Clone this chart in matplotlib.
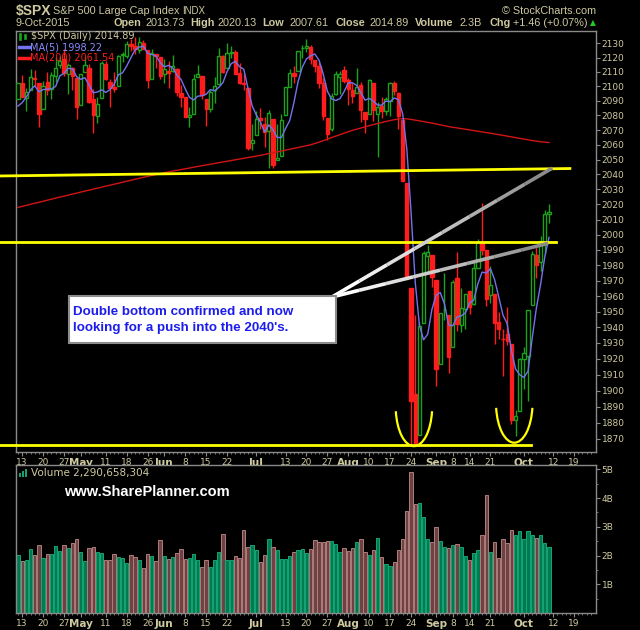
#libraries used
import numpy as np
import pandas as pd
import matplotlib
matplotlib.use('Agg')
import matplotlib.pyplot as plt
from matplotlib.patches import Arc, Rectangle
from matplotlib.collections import LineCollection
from matplotlib.ticker import FixedLocator, NullLocator, NullFormatter

# ---- data : S&P 500 daily bars, 10-Apr-2015 .. 9-Oct-2015 ----
opens = [2091.51, 2102.03, 2092.28, 2097.82, 2105.96, 2102.58, 2084.11, 2102.82, 2098.27, 2107.21,
         2114.76, 2119.29, 2108.35, 2112.49, 2105.52, 2087.38, 2110.23, 2112.63, 2091.26, 2079.96,
         2092.13, 2115.56, 2102.87, 2099.62, 2100.43, 2122.07, 2121.30, 2129.45, 2127.79, 2125.55,
         2130.36, 2125.34, 2105.13, 2122.27, 2120.66, 2108.64, 2110.41, 2110.64, 2112.35, 2095.09,
         2092.34, 2079.07, 2081.12, 2106.24, 2107.43, 2091.34, 2084.26, 2097.40, 2101.58, 2121.06,
         2112.50, 2123.16, 2123.65, 2109.10, 2102.62, 2098.63, 2061.19, 2067.00, 2078.03, 2073.95,
         2069.52, 2077.66, 2049.73, 2052.74, 2080.03, 2099.72, 2109.01, 2110.55, 2126.80, 2126.85,
         2127.55, 2118.21, 2114.16, 2102.24, 2078.19, 2070.75, 2094.70, 2106.78, 2111.60, 2104.49,
         2097.68, 2095.27, 2100.75, 2082.61, 2080.98, 2102.66, 2081.10, 2086.19, 2083.15, 2089.70,
         2101.99, 2095.69, 2076.61, 2034.08, 1965.15, 1898.08, 1872.75, 1942.77, 1986.06, 1986.73,
         1970.09, 1916.52, 1950.79, 1947.76, 1927.30, 1971.45, 1941.59, 1951.45, 1963.06, 1955.10,
         1978.02, 1995.33, 1989.66, 1960.84, 1961.39, 1943.24, 1932.24, 1935.93, 1929.18, 1881.90,
         1887.14, 1919.65, 1921.77, 1954.33, 1986.63, 1982.34, 1994.01, 2013.73]
highs = [2102.61, 2107.65, 2098.62, 2111.91, 2111.30, 2102.58, 2103.94, 2109.64, 2109.98, 2120.49,
         2120.92, 2125.92, 2116.04, 2113.65, 2105.52, 2108.41, 2120.95, 2115.24, 2098.42, 2092.90,
         2117.66, 2117.69, 2105.06, 2110.19, 2121.45, 2123.89, 2131.78, 2133.02, 2134.72, 2134.28,
         2132.15, 2125.34, 2126.22, 2122.27, 2120.66, 2119.15, 2117.59, 2121.92, 2112.89, 2100.99,
         2093.01, 2085.62, 2108.50, 2115.02, 2107.43, 2091.34, 2097.40, 2106.79, 2126.65, 2121.64,
         2129.87, 2128.03, 2125.10, 2116.04, 2108.92, 2098.63, 2074.28, 2082.78, 2085.06, 2078.61,
         2083.74, 2077.66, 2074.28, 2081.31, 2099.88, 2111.98, 2114.14, 2124.42, 2128.91, 2132.82,
         2128.49, 2118.51, 2116.87, 2106.01, 2078.19, 2095.60, 2110.60, 2110.48, 2114.24, 2105.70,
         2102.51, 2112.66, 2103.32, 2082.61, 2105.35, 2102.66, 2089.06, 2092.93, 2092.45, 2102.87,
         2103.47, 2096.17, 2076.61, 2034.08, 1965.15, 1948.04, 1943.09, 1989.60, 1993.48, 1986.73,
         1970.09, 1948.91, 1975.01, 1947.76, 1970.42, 1988.63, 1965.29, 1961.05, 1963.06, 1983.19,
         1997.26, 2020.86, 1989.66, 1979.64, 1961.39, 1949.52, 1939.08, 1952.89, 1929.18, 1887.64,
         1920.53, 1927.21, 1951.36, 1989.17, 1991.62, 1999.31, 2016.50, 2020.13]
lows = [2091.51, 2092.33, 2083.24, 2097.82, 2100.02, 2072.37, 2084.11, 2094.38, 2091.05, 2103.19,
        2112.76, 2107.04, 2094.89, 2097.41, 2077.59, 2087.38, 2110.23, 2088.46, 2067.93, 2074.99,
        2092.13, 2104.58, 2085.57, 2096.04, 2100.43, 2116.81, 2120.01, 2124.50, 2122.59, 2122.95,
        2126.06, 2099.18, 2105.13, 2112.86, 2104.89, 2102.54, 2099.14, 2109.61, 2093.23, 2085.67,
        2079.11, 2072.14, 2081.12, 2106.24, 2091.33, 2072.49, 2082.10, 2088.86, 2101.58, 2109.45,
        2112.50, 2119.89, 2108.58, 2101.78, 2097.51, 2056.64, 2056.32, 2067.00, 2071.02, 2058.40,
        2044.02, 2044.66, 2049.73, 2052.74, 2080.03, 2099.72, 2102.49, 2110.55, 2119.88, 2123.66,
        2115.40, 2110.00, 2098.63, 2077.09, 2063.52, 2069.09, 2094.08, 2094.97, 2102.07, 2087.31,
        2088.60, 2095.27, 2075.53, 2067.91, 2080.98, 2076.49, 2052.09, 2078.26, 2080.61, 2079.30,
        2094.14, 2070.53, 2035.73, 1970.89, 1867.01, 1867.08, 1872.75, 1942.77, 1975.19, 1965.98,
        1903.07, 1916.52, 1944.72, 1911.21, 1927.30, 1937.88, 1937.19, 1939.19, 1948.27, 1954.30,
        1977.93, 1986.73, 1953.45, 1955.80, 1929.22, 1932.57, 1908.85, 1928.44, 1879.21, 1871.91,
        1887.14, 1900.70, 1893.70, 1954.33, 1971.99, 1976.44, 1987.53, 2007.61]
closes = [2102.06, 2092.43, 2095.84, 2106.63, 2104.99, 2081.18, 2100.40, 2097.29, 2107.96, 2112.93,
          2117.69, 2108.92, 2114.76, 2106.85, 2085.51, 2108.29, 2114.49, 2089.46, 2080.15, 2088.00,
          2116.10, 2105.33, 2099.12, 2098.48, 2121.10, 2122.73, 2129.20, 2127.83, 2125.85, 2130.82,
          2126.06, 2104.20, 2123.48, 2120.79, 2107.39, 2111.73, 2109.60, 2114.07, 2095.84, 2092.83,
          2079.28, 2080.15, 2105.20, 2108.86, 2094.11, 2084.43, 2096.29, 2100.44, 2121.24, 2109.99,
          2122.85, 2124.20, 2108.58, 2102.31, 2101.49, 2057.64, 2063.11, 2077.42, 2076.78, 2068.76,
          2081.34, 2046.68, 2051.31, 2076.62, 2099.60, 2108.95, 2107.40, 2124.29, 2126.64, 2128.28,
          2119.21, 2114.15, 2102.15, 2079.65, 2067.64, 2093.25, 2108.57, 2108.63, 2103.84, 2098.04,
          2093.32, 2099.84, 2083.56, 2077.57, 2104.18, 2084.07, 2086.05, 2083.39, 2091.54, 2102.44,
          2096.92, 2079.61, 2035.73, 1970.89, 1893.21, 1867.61, 1940.51, 1987.66, 1988.87, 1972.18,
          1913.85, 1948.86, 1951.13, 1921.22, 1969.41, 1942.04, 1952.29, 1961.05, 1953.03, 1978.09,
          1995.31, 1990.20, 1958.03, 1966.97, 1942.74, 1938.76, 1932.24, 1931.34, 1881.77, 1884.09,
          1920.03, 1923.82, 1951.36, 1987.05, 1979.92, 1995.83, 2013.43, 2014.89]
prior_closes = [2080.62, 2076.33, 2081.90, 2091.18]  # 6-9 Apr, only feed the MA(5)
volumes = [2.02, 1.81, 1.84, 2.23, 2.02, 2.37, 1.90, 2.07, 2.07, 2.33,
           2.16, 2.37, 2.25, 2.45, 2.58, 2.14, 1.81, 2.27, 2.30, 2.14,
           2.09, 1.84, 1.84, 2.04, 1.95, 1.91, 1.74, 2.02, 1.95, 1.84,
           1.58, 2.04, 2.00, 1.81, 2.54, 1.97, 1.88, 1.95, 2.09, 2.23,
           1.88, 1.91, 2.04, 1.84, 1.60, 1.84, 1.60, 1.84, 2.13, 2.75,
           1.84, 1.84, 1.97, 1.91, 2.89, 2.28, 2.37, 2.19, 1.78, 2.02,
           2.58, 2.28, 2.19, 1.88, 1.88, 1.98, 2.13, 2.19, 2.23, 2.09,
           2.23, 2.54, 2.47, 2.47, 2.51, 2.50, 2.40, 2.13, 2.26, 2.16,
           2.26, 2.47, 2.58, 2.13, 2.02, 2.19, 2.61, 1.95, 1.70, 1.64,
           1.78, 2.19, 2.58, 3.55, 4.90, 3.79, 3.82, 3.34, 2.58, 2.47,
           2.99, 2.50, 2.30, 2.26, 2.37, 2.40, 2.30, 1.99, 1.84, 2.09,
           2.19, 2.71, 4.10, 2.13, 2.47, 1.91, 2.58, 2.44, 2.89, 2.71,
           2.85, 2.58, 2.85, 2.71, 2.61, 2.71, 2.44, 2.2907]  # billions
ma200 = [2018.0, 2018.7, 2019.4, 2020.1, 2020.8, 2021.4, 2022.1, 2022.8, 2023.5, 2024.2,
         2024.9, 2025.5, 2026.2, 2026.9, 2027.5, 2028.2, 2028.9, 2029.5, 2030.2, 2030.8,
         2031.5, 2032.2, 2032.8, 2033.5, 2034.1, 2034.8, 2035.5, 2036.1, 2036.8, 2037.4,
         2038.1, 2038.7, 2039.4, 2040.0, 2040.6, 2041.2, 2041.7, 2042.3, 2042.8, 2043.3,
         2043.8, 2044.3, 2044.9, 2045.4, 2045.9, 2046.4, 2046.9, 2047.4, 2047.9, 2048.4,
         2048.9, 2049.4, 2049.9, 2050.4, 2050.9, 2051.4, 2051.9, 2052.4, 2052.9, 2053.5,
         2054.1, 2054.6, 2055.2, 2055.8, 2056.4, 2057.0, 2057.6, 2058.2, 2058.8, 2059.4,
         2060.0, 2060.9, 2061.8, 2062.8, 2063.8, 2064.9, 2065.9, 2066.9, 2067.9, 2068.9,
         2069.8, 2070.6, 2071.4, 2072.2, 2073.0, 2073.8, 2074.5, 2075.2, 2075.9, 2076.5,
         2077.1, 2077.6, 2077.8, 2077.7, 2077.3, 2076.8, 2076.3, 2075.8, 2075.3, 2074.8,
         2074.2, 2073.6, 2073.0, 2072.4, 2071.9, 2071.5, 2071.0, 2070.6, 2070.1, 2069.7,
         2069.2, 2068.8, 2068.3, 2067.9, 2067.4, 2066.9, 2066.4, 2065.9, 2065.4, 2064.9,
         2064.4, 2063.9, 2063.4, 2062.9, 2062.5, 2062.1, 2061.8, 2061.54]

# x axis ticks (trading-day calendar, incl. two future weeks)
tick_days = ['2015-04-13', '2015-04-20', '2015-04-27', '2015-05-01', '2015-05-11', '2015-05-18',
             '2015-05-26', '2015-06-01', '2015-06-08', '2015-06-15', '2015-06-22', '2015-07-01',
             '2015-07-13', '2015-07-20', '2015-07-27', '2015-08-03', '2015-08-10', '2015-08-17',
             '2015-08-24', '2015-09-01', '2015-09-08', '2015-09-14', '2015-09-21', '2015-10-01',
             '2015-10-12', '2015-10-19']
tick_labels = ['13', '20', '27', 'May', '11', '18', '26', 'Jun', '8', '15', '22', 'Jul',
               '13', '20', '27', 'Aug', '10', '17', '24', 'Sep', '8', '14', '21', 'Oct', '12', '19']
price_ticks = list(range(1870, 2131, 10))
vol_ticks = [1, 2, 3, 4, 5]

# annotations drawn on the chart (date index, price)
trend_line = [(-4.3, 2039.0), (132.0, 2044.0)]
support_level = 1995.4
support_end = 128.7
bottom_level = 1866.3
bottom_end = 122.7
bottom_arcs = [(94.7, 4.1, 1881.7, 1865.6), (118.7, 4.1, 1883.8, 1867.7)]  # centre, half width, top, low
callout_apex = (75.1, 1959.4)
callout_ends = [(127.8, 2044.3), (126.8, 1994.3)]
note_text = "Double bottom confirmed and now\nlooking for a push into the 2040's."

# ---- styling ----
TAN = '#cfc9a0'
FRAME = '#8a8a8a'
GREEN = '#1aa31a'
RED = '#ff1c1c'
YELLOW = '#ffff00'
HEAD = ['Liberation Sans', 'DejaVu Sans']

o = np.array(opens); h = np.array(highs); l = np.array(lows); c = np.array(closes)
n = len(c)
idx = np.arange(n)
prev = np.concatenate([[prior_closes[-1]], c[:-1]])
up = c >= prev
col = np.where(up, GREEN, RED)
face = np.where(c > o, 'black', col)
ma5 = pd.Series(prior_closes + closes).rolling(5).mean().to_numpy()[len(prior_closes):]

days = pd.bdate_range('2015-04-10', '2015-10-23')
days = days.drop(pd.to_datetime(['2015-05-25', '2015-07-03', '2015-09-07']))
tick_pos = [days.get_loc(pd.Timestamp(d)) for d in tick_days]
months = {'May', 'Jun', 'Jul', 'Aug', 'Sep', 'Oct'}

fig = plt.figure(figsize=(6.4, 6.3), dpi=100, facecolor='black')
ax = fig.add_axes([16/640, 1-452/630, 580/640, 421/630])
axv = fig.add_axes([16/640, 1-613/630, 580/640, 148/630])

def px(x, y):
    return x/640, 1 - y/630

for a in (ax, axv):
    a.set_facecolor('black')
    for s in a.spines.values():
        s.set_color(FRAME)
        s.set_linewidth(1)
    a.set_xlim(-0.48, 138.25)
    a.yaxis.tick_right()
    a.set_xticks(tick_pos)
    a.set_xticklabels(tick_labels)
    a.xaxis.set_minor_locator(FixedLocator(range(0, len(days))))
    a.tick_params(axis='both', which='both', direction='out', colors=FRAME, labelcolor=TAN,
                  labelsize=6.5, pad=1)
    a.tick_params(axis='both', which='major', length=3)
    a.tick_params(axis='both', which='minor', length=1.5)
    for lbl, t in zip(a.get_xticklabels(), tick_labels):
        if t in months:
            lbl.set_fontweight('bold')
            lbl.set_fontsize(7.5)

# ---- price panel ----
ax.set_yscale('log')
ax.set_ylim(1862.0, 2138.6)
ax.yaxis.set_major_locator(FixedLocator(price_ticks))
ax.yaxis.set_minor_locator(NullLocator())
ax.yaxis.set_minor_formatter(NullFormatter())
ax.set_yticklabels([str(p) for p in price_ticks])

ax.vlines(idx, l, h, colors=col, linewidth=1, zorder=2)
ax.bar(idx, np.abs(c - o), bottom=np.minimum(o, c), width=0.78, color=face,
       edgecolor=col, linewidth=1, zorder=3)
ax.plot(idx, ma200, color='#d41414', lw=1, zorder=4)
ax.plot(idx, ma5, color='#7373ee', lw=1, zorder=4)

# yellow lines drawn by the author (they run past the left frame)
ax.plot([p[0] for p in trend_line], [p[1] for p in trend_line], color=YELLOW, lw=2,
        clip_on=False, zorder=5)
ax.plot([-4.3, support_end], [support_level, support_level], color=YELLOW, lw=2,
        clip_on=False, zorder=5)
ax.plot([-4.3, bottom_end], [bottom_level, bottom_level], color=YELLOW, lw=2,
        clip_on=False, zorder=5)

to_axes = ax.transScale + ax.transLimits
for cx, hw, top, low in bottom_arcs:
    x0, y_top = to_axes.transform((cx, top))
    x1, y_low = to_axes.transform((cx + hw, low))
    a_w = (x1 - x0) / np.cos(np.radians(20))
    b_h = (y_top - y_low) / (1 - np.sin(np.radians(20)))
    ax.add_patch(Arc((x0, y_top + b_h*np.sin(np.radians(20))), 2*a_w, 2*b_h, theta1=200, theta2=340,
                     transform=ax.transAxes, edgecolor=YELLOW, lw=1.6, clip_on=False, zorder=6))

# callout wedge: white near the note, grey at the far end
ap = to_axes.transform(callout_apex)
for end in callout_ends:
    ep = to_axes.transform(end)
    fr = np.linspace(0, 1, 9)
    pts = np.outer(1 - fr, ap) + np.outer(fr, ep)
    segs = [[pts[i], pts[i+1]] for i in range(len(pts) - 1)]
    shades = [str(v) for v in np.linspace(1.0, 0.55, len(segs))]
    ax.add_collection(LineCollection(segs, colors=shades, linewidths=2.6,
                                     transform=ax.transAxes, zorder=7))

ax.add_patch(Rectangle((53/580, (452-343)/421), 267/580, 47/421, transform=ax.transAxes,
                       facecolor='white', edgecolor='#8c8c8c', lw=1.5, zorder=8))
ax.text(57/580, (452-320)/421, note_text, transform=ax.transAxes, va='center', ha='left',
        color='#1c1cee', fontsize=9.6, fontweight='bold', family=HEAD, linespacing=1.55, zorder=9)

# legend in the price panel
fig.patches.append(Rectangle(px(19, 40), 2/640, 7/630, transform=fig.transFigure,
                             facecolor=GREEN, edgecolor=GREEN, lw=0.5))
fig.patches.append(Rectangle(px(24, 39), 2/640, 5/630, transform=fig.transFigure,
                             facecolor=GREEN, edgecolor=GREEN, lw=0.5))
fig.text(*px(31, 36), r'\$SPX (Daily) %.2f' % c[-1], color=TAN, fontsize=7, va='center')
fig.lines.append(plt.Line2D([19/640, 29/640], [1-47/630, 1-47/630], transform=fig.transFigure,
                            color='#7373ee', lw=2.5))
fig.text(*px(30, 47), 'MA(5) %.2f' % ma5[-1], color='#8a8aff', fontsize=7, va='center')
fig.lines.append(plt.Line2D([19/640, 29/640], [1-58/630, 1-58/630], transform=fig.transFigure,
                            color=RED, lw=2.5))
fig.text(*px(30, 58), 'MA(200) %.2f' % ma200[-1], color=RED, fontsize=7, va='center')

# ---- volume panel ----
vol_up = '#007a50'
vol_dn = '#6e4242'
axv.bar(idx, np.array(volumes) * 1e9, width=0.8, color=np.where(up, vol_up, vol_dn),
        edgecolor=np.where(up, '#14a674', '#b07c7c'), linewidth=0.7, zorder=2)
axv.set_ylim(0, 5.15e9)
axv.yaxis.set_major_locator(FixedLocator([v * 1e9 for v in vol_ticks]))
axv.yaxis.set_minor_locator(FixedLocator([(v + 0.5) * 1e9 for v in range(0, 5)]))
axv.set_yticklabels(['%dB' % v for v in vol_ticks])

for i, hgt in enumerate([4, 6, 8]):
    fig.patches.append(Rectangle(px(19 + i*3, 477), 2/640, hgt/630, transform=fig.transFigure,
                                 facecolor='#16a070', edgecolor='none'))
fig.text(*px(31, 473), 'Volume {:,}'.format(2290658304), color=TAN, fontsize=7.5, va='center')
fig.text(*px(64, 492), 'www.SharePlanner.com', color='white', fontsize=10.5, fontweight='bold',
         family=HEAD, va='center')

# ---- header ----
fig.text(*px(16, 11), r'\$SPX', color=TAN, fontsize=10, fontweight='bold', family=HEAD, va='center')
fig.text(*px(53, 11), 'S&P 500 Large Cap Index', color=TAN, fontsize=7.8, family=HEAD, va='center')
fig.text(*px(182, 11), 'INDX', color=TAN, fontsize=7, family=HEAD, va='center')
fig.text(*px(596, 11), '\u00a9 StockCharts.com', color=TAN, fontsize=7.8, family=HEAD,
         va='center', ha='right')
chg = c[-1] - c[-2]
header = [('9-Oct-2015', 16, 'normal'), ('Open', 114, 'bold'), ('%.2f' % o[-1], 146, 'normal'),
          ('High', 190, 'bold'), ('%.2f' % h[-1], 218, 'normal'), ('Low', 262, 'bold'),
          ('%.2f' % l[-1], 290, 'normal'), ('Close', 335, 'bold'), ('%.2f' % c[-1], 369, 'normal'),
          ('Volume', 415, 'bold'), ('%.1fB' % volumes[-1], 460, 'normal'), ('Chg', 489, 'bold'),
          ('%+.2f (%+.2f%%)' % (chg, chg / c[-2] * 100), 513, 'normal')]
for txt, xx, wt in header:
    fig.text(*px(xx, 23), txt, color=TAN, fontsize=7.8, fontweight=wt, family=HEAD, va='center')
fig.text(*px(590, 23), '\u25b2', color='#22cc22', fontsize=5.5, va='center')

fig.savefig('out.png', dpi=100, facecolor='black')
